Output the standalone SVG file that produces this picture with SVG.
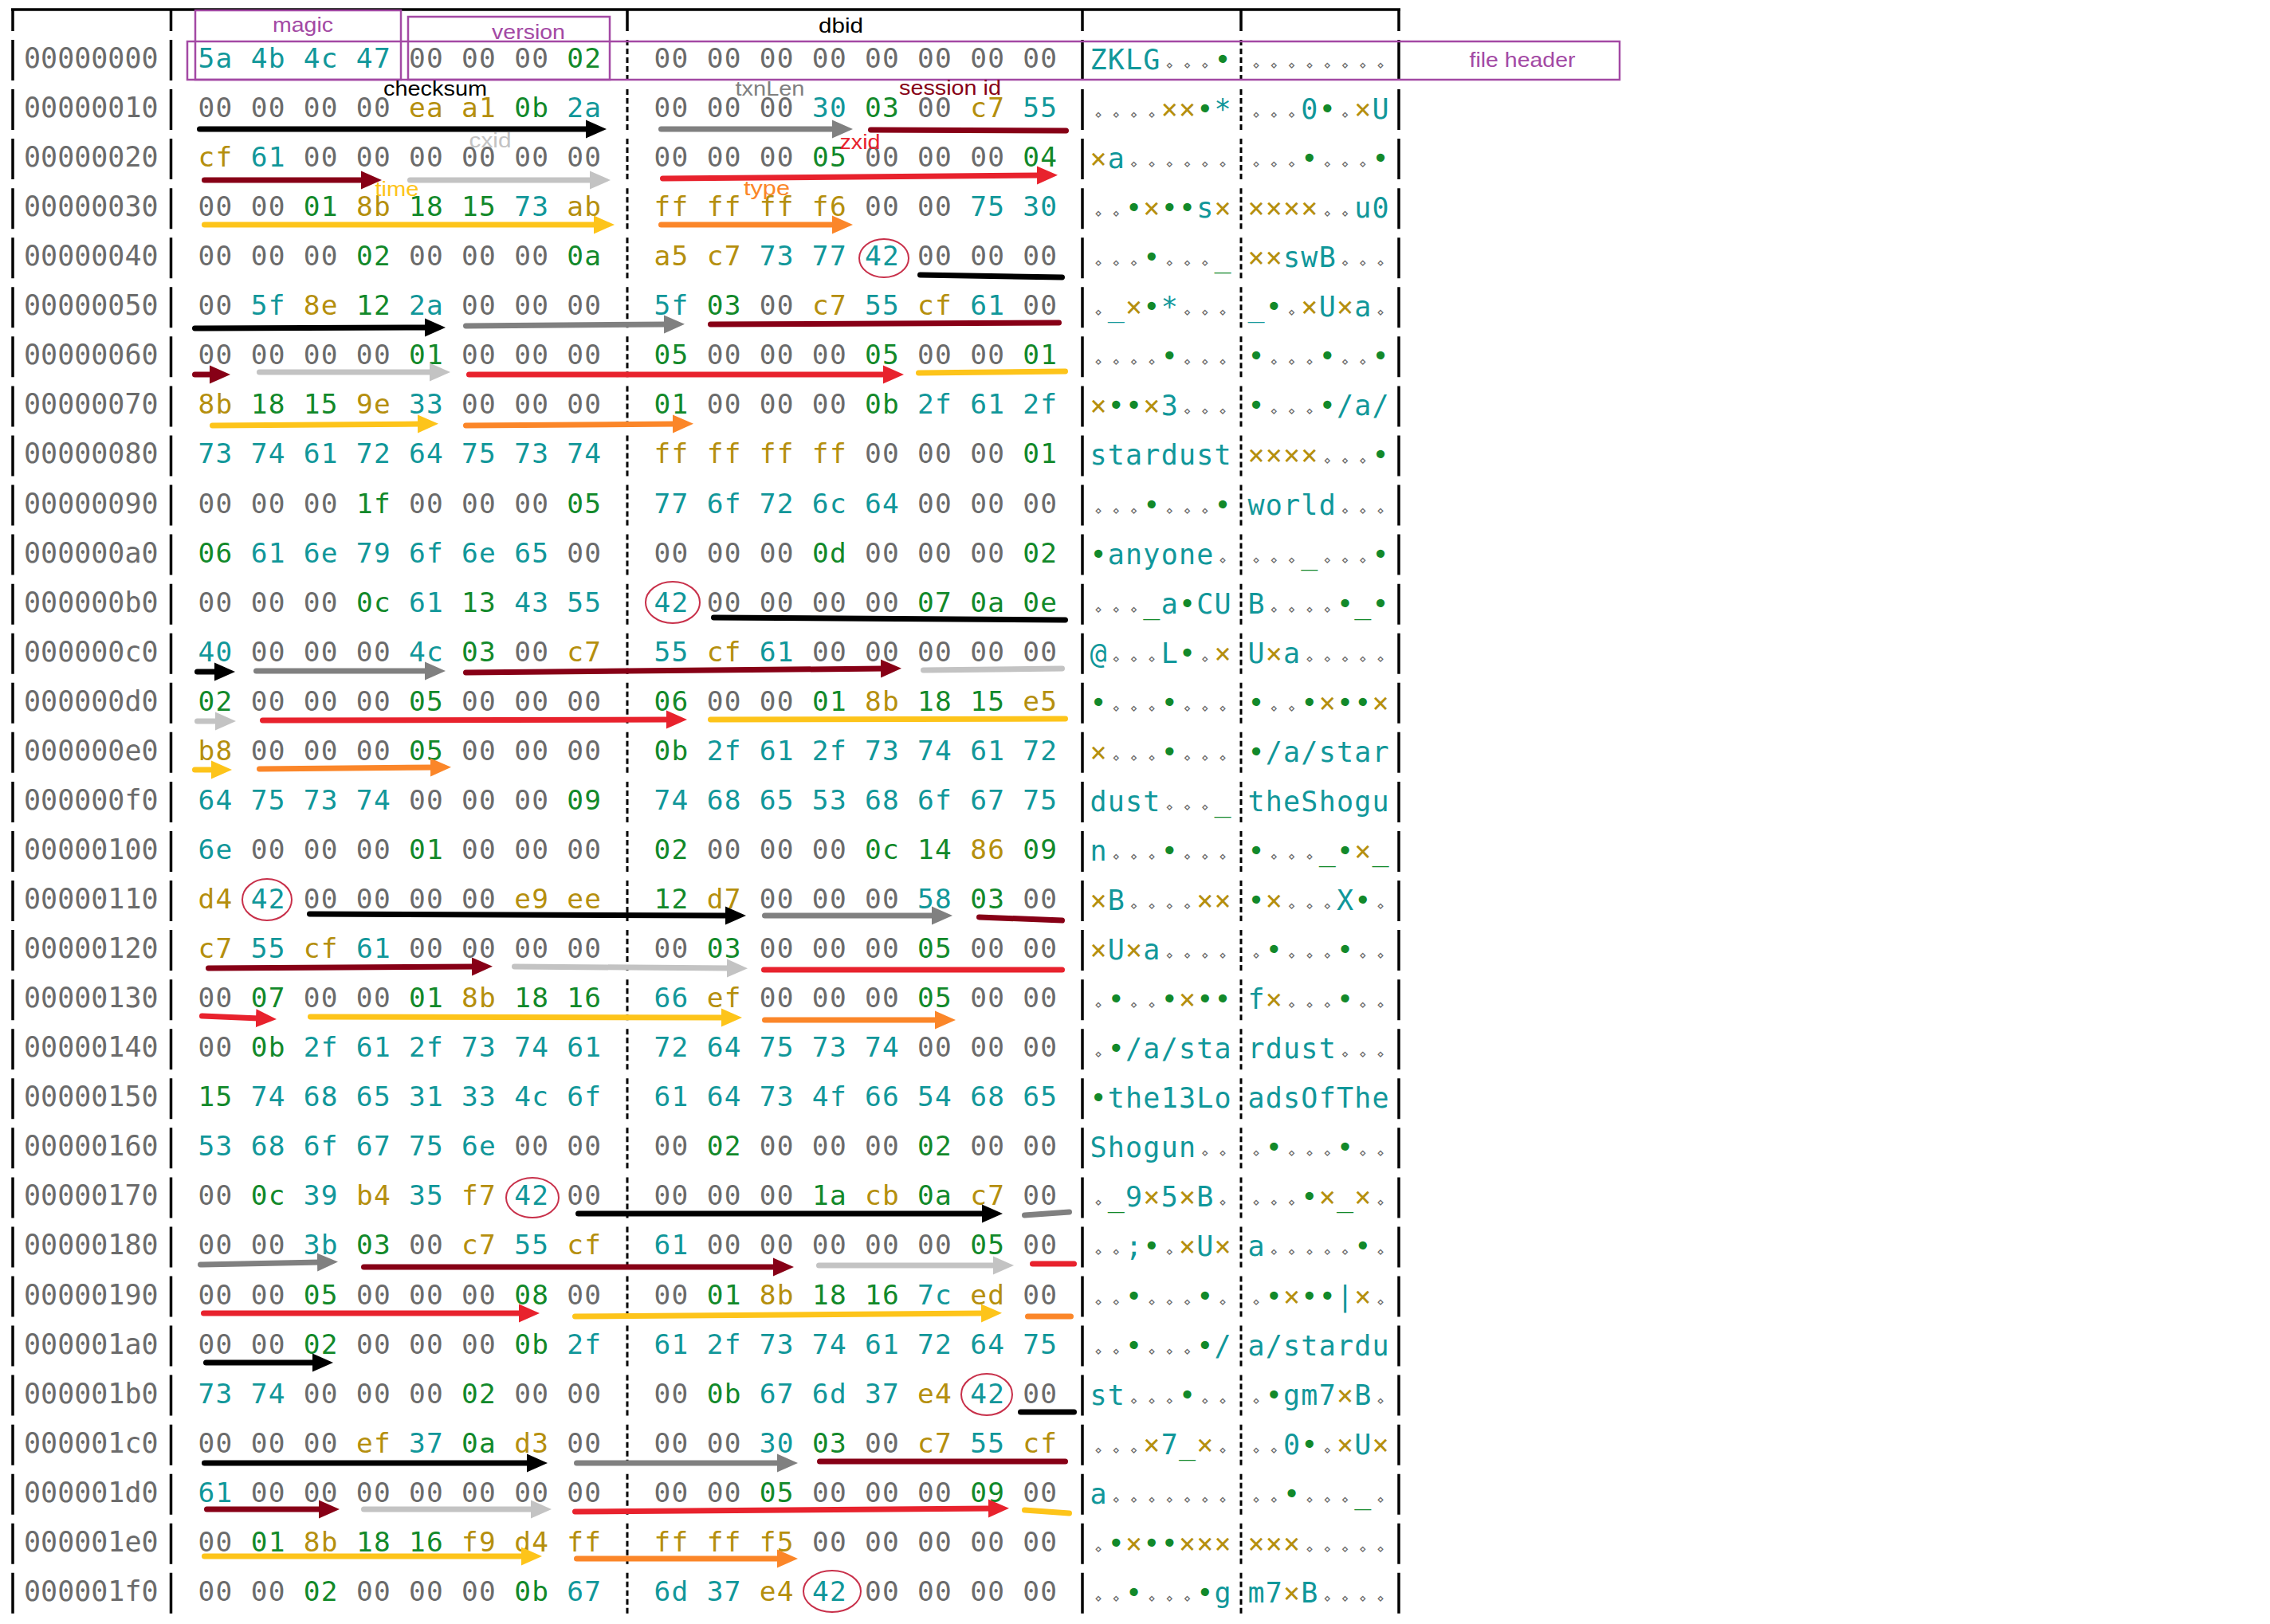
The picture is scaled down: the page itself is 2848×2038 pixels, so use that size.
<svg xmlns="http://www.w3.org/2000/svg" width="2848" height="2038" viewBox="0 0 2848 2038">
<style>
.off{font-family:"DejaVu Sans Mono","Liberation Mono",monospace;font-size:35px;fill:#6b6b6b}
.h{font-family:"DejaVu Sans Mono","Liberation Mono",monospace;font-size:34.5px;letter-spacing:1.26px;white-space:pre}
.a{font-family:"DejaVu Sans Mono","Liberation Mono",monospace;font-size:35px;text-anchor:middle}
.a .n{font-size:15px}
.n{fill:#6b6b6b}.p{fill:#11979a}.g{fill:#12892a}.y{fill:#b58f0e}
.lbl{font-family:"Liberation Sans",Arial,sans-serif;font-size:26.5px;text-anchor:middle}
.solid{stroke:#000;stroke-width:3.5;fill:none}
.dash{stroke:#000;stroke-width:3;fill:none}
.box{fill:none;stroke:#a349a4;stroke-width:2.5}
.ar{fill:none;stroke-width:7;stroke-linecap:round}
.s-k{stroke:#000}.s-gr{stroke:#808080}.s-dr{stroke:#870016}.s-lg{stroke:#c3c3c3}.s-rd{stroke:#e8222d}.s-yl{stroke:#fdc41a}.s-or{stroke:#fb8629}
.c42{fill:none;stroke:#c8304a;stroke-width:2}
</style>
<defs>
<marker id="h-k" viewBox="0 0 30 26" markerWidth="30" markerHeight="26" refX="4" refY="13" orient="auto" markerUnits="userSpaceOnUse"><path d="M0 1.5L26 13L0 24.5Z" fill="#000"/></marker>
<marker id="h-gr" viewBox="0 0 30 26" markerWidth="30" markerHeight="26" refX="4" refY="13" orient="auto" markerUnits="userSpaceOnUse"><path d="M0 1.5L26 13L0 24.5Z" fill="#808080"/></marker>
<marker id="h-dr" viewBox="0 0 30 26" markerWidth="30" markerHeight="26" refX="4" refY="13" orient="auto" markerUnits="userSpaceOnUse"><path d="M0 1.5L26 13L0 24.5Z" fill="#870016"/></marker>
<marker id="h-lg" viewBox="0 0 30 26" markerWidth="30" markerHeight="26" refX="4" refY="13" orient="auto" markerUnits="userSpaceOnUse"><path d="M0 1.5L26 13L0 24.5Z" fill="#c3c3c3"/></marker>
<marker id="h-rd" viewBox="0 0 30 26" markerWidth="30" markerHeight="26" refX="4" refY="13" orient="auto" markerUnits="userSpaceOnUse"><path d="M0 1.5L26 13L0 24.5Z" fill="#e8222d"/></marker>
<marker id="h-yl" viewBox="0 0 30 26" markerWidth="30" markerHeight="26" refX="4" refY="13" orient="auto" markerUnits="userSpaceOnUse"><path d="M0 1.5L26 13L0 24.5Z" fill="#fdc41a"/></marker>
<marker id="h-or" viewBox="0 0 30 26" markerWidth="30" markerHeight="26" refX="4" refY="13" orient="auto" markerUnits="userSpaceOnUse"><path d="M0 1.5L26 13L0 24.5Z" fill="#fb8629"/></marker>
</defs>
<rect x="0" y="0" width="2848" height="2038" fill="#fff"/>
<g id="grid">
<path class="solid" d="M14 12H1757"/>
<path class="solid" d="M16 13V39M214.5 13V39M787 13V39M1358 13V39M1557 13V39M1755 13V39"/>
<path class="solid" stroke-dasharray="51 11.06" d="M16 50V2030M214.5 50V2030M1358 50V2030M1755 50V2030"/>
<path class="dash" stroke-dasharray="7 4 7 4 7 4 7 4 7 11.06" d="M787 50V2030M1557 50V2030"/>
</g>
<g id="rows" xml:space="preserve">
<g id="row-00000000"><text class="off" x="30" y="85">00000000</text><text class="h" x="248.6" y="85"><tspan class="p">5a 4b 4c 47 </tspan><tspan class="n">00 00 00 </tspan><tspan class="g">02</tspan></text><text class="h" x="820.6" y="85"><tspan class="n">00 00 00 00 00 00 00 00</tspan></text><text class="a" x="1378 1400.3 1422.6 1444.9 1467.2 1489.5 1511.8 1534.1" y="87"><tspan class="p">ZKLG</tspan><tspan class="n">⋄⋄⋄</tspan><tspan class="g">•</tspan></text><text class="a" x="1576 1598.3 1620.6 1642.9 1665.2 1687.5 1709.8 1732.1" y="87"><tspan class="n">⋄⋄⋄⋄⋄⋄⋄⋄</tspan></text></g>
<g id="row-00000010"><text class="off" x="30" y="147">00000010</text><text class="h" x="248.6" y="147"><tspan class="n">00 00 00 00 </tspan><tspan class="y">ea a1 </tspan><tspan class="g">0b </tspan><tspan class="p">2a</tspan></text><text class="h" x="820.6" y="147"><tspan class="n">00 00 00 </tspan><tspan class="p">30 </tspan><tspan class="g">03 </tspan><tspan class="n">00 </tspan><tspan class="y">c7 </tspan><tspan class="p">55</tspan></text><text class="a" x="1378 1400.3 1422.6 1444.9 1467.2 1489.5 1511.8 1534.1" y="149"><tspan class="n">⋄⋄⋄⋄</tspan><tspan class="y">××</tspan><tspan class="g">•</tspan><tspan class="p">*</tspan></text><text class="a" x="1576 1598.3 1620.6 1642.9 1665.2 1687.5 1709.8 1732.1" y="149"><tspan class="n">⋄⋄⋄</tspan><tspan class="p">0</tspan><tspan class="g">•</tspan><tspan class="n">⋄</tspan><tspan class="y">×</tspan><tspan class="p">U</tspan></text></g>
<g id="row-00000020"><text class="off" x="30" y="209">00000020</text><text class="h" x="248.6" y="209"><tspan class="y">cf </tspan><tspan class="p">61 </tspan><tspan class="n">00 00 00 00 00 00</tspan></text><text class="h" x="820.6" y="209"><tspan class="n">00 00 00 </tspan><tspan class="g">05 </tspan><tspan class="n">00 00 00 </tspan><tspan class="g">04</tspan></text><text class="a" x="1378 1400.3 1422.6 1444.9 1467.2 1489.5 1511.8 1534.1" y="211"><tspan class="y">×</tspan><tspan class="p">a</tspan><tspan class="n">⋄⋄⋄⋄⋄⋄</tspan></text><text class="a" x="1576 1598.3 1620.6 1642.9 1665.2 1687.5 1709.8 1732.1" y="211"><tspan class="n">⋄⋄⋄</tspan><tspan class="g">•</tspan><tspan class="n">⋄⋄⋄</tspan><tspan class="g">•</tspan></text></g>
<g id="row-00000030"><text class="off" x="30" y="271">00000030</text><text class="h" x="248.6" y="271"><tspan class="n">00 00 </tspan><tspan class="g">01 </tspan><tspan class="y">8b </tspan><tspan class="g">18 15 </tspan><tspan class="p">73 </tspan><tspan class="y">ab</tspan></text><text class="h" x="820.6" y="271"><tspan class="y">ff ff ff f6 </tspan><tspan class="n">00 00 </tspan><tspan class="p">75 30</tspan></text><text class="a" x="1378 1400.3 1422.6 1444.9 1467.2 1489.5 1511.8 1534.1" y="273"><tspan class="n">⋄⋄</tspan><tspan class="g">•</tspan><tspan class="y">×</tspan><tspan class="g">••</tspan><tspan class="p">s</tspan><tspan class="y">×</tspan></text><text class="a" x="1576 1598.3 1620.6 1642.9 1665.2 1687.5 1709.8 1732.1" y="273"><tspan class="y">××××</tspan><tspan class="n">⋄⋄</tspan><tspan class="p">u0</tspan></text></g>
<g id="row-00000040"><text class="off" x="30" y="333">00000040</text><text class="h" x="248.6" y="333"><tspan class="n">00 00 00 </tspan><tspan class="g">02 </tspan><tspan class="n">00 00 00 </tspan><tspan class="g">0a</tspan></text><text class="h" x="820.6" y="333"><tspan class="y">a5 c7 </tspan><tspan class="p">73 77 42 </tspan><tspan class="n">00 00 00</tspan></text><text class="a" x="1378 1400.3 1422.6 1444.9 1467.2 1489.5 1511.8 1534.1" y="335"><tspan class="n">⋄⋄⋄</tspan><tspan class="g">•</tspan><tspan class="n">⋄⋄⋄</tspan><tspan class="g">_</tspan></text><text class="a" x="1576 1598.3 1620.6 1642.9 1665.2 1687.5 1709.8 1732.1" y="335"><tspan class="y">××</tspan><tspan class="p">swB</tspan><tspan class="n">⋄⋄⋄</tspan></text></g>
<g id="row-00000050"><text class="off" x="30" y="395">00000050</text><text class="h" x="248.6" y="395"><tspan class="n">00 </tspan><tspan class="p">5f </tspan><tspan class="y">8e </tspan><tspan class="g">12 </tspan><tspan class="p">2a </tspan><tspan class="n">00 00 00</tspan></text><text class="h" x="820.6" y="395"><tspan class="p">5f </tspan><tspan class="g">03 </tspan><tspan class="n">00 </tspan><tspan class="y">c7 </tspan><tspan class="p">55 </tspan><tspan class="y">cf </tspan><tspan class="p">61 </tspan><tspan class="n">00</tspan></text><text class="a" x="1378 1400.3 1422.6 1444.9 1467.2 1489.5 1511.8 1534.1" y="397"><tspan class="n">⋄</tspan><tspan class="p">_</tspan><tspan class="y">×</tspan><tspan class="g">•</tspan><tspan class="p">*</tspan><tspan class="n">⋄⋄⋄</tspan></text><text class="a" x="1576 1598.3 1620.6 1642.9 1665.2 1687.5 1709.8 1732.1" y="397"><tspan class="p">_</tspan><tspan class="g">•</tspan><tspan class="n">⋄</tspan><tspan class="y">×</tspan><tspan class="p">U</tspan><tspan class="y">×</tspan><tspan class="p">a</tspan><tspan class="n">⋄</tspan></text></g>
<g id="row-00000060"><text class="off" x="30" y="457">00000060</text><text class="h" x="248.6" y="457"><tspan class="n">00 00 00 00 </tspan><tspan class="g">01 </tspan><tspan class="n">00 00 00</tspan></text><text class="h" x="820.6" y="457"><tspan class="g">05 </tspan><tspan class="n">00 00 00 </tspan><tspan class="g">05 </tspan><tspan class="n">00 00 </tspan><tspan class="g">01</tspan></text><text class="a" x="1378 1400.3 1422.6 1444.9 1467.2 1489.5 1511.8 1534.1" y="459"><tspan class="n">⋄⋄⋄⋄</tspan><tspan class="g">•</tspan><tspan class="n">⋄⋄⋄</tspan></text><text class="a" x="1576 1598.3 1620.6 1642.9 1665.2 1687.5 1709.8 1732.1" y="459"><tspan class="g">•</tspan><tspan class="n">⋄⋄⋄</tspan><tspan class="g">•</tspan><tspan class="n">⋄⋄</tspan><tspan class="g">•</tspan></text></g>
<g id="row-00000070"><text class="off" x="30" y="519">00000070</text><text class="h" x="248.6" y="519"><tspan class="y">8b </tspan><tspan class="g">18 15 </tspan><tspan class="y">9e </tspan><tspan class="p">33 </tspan><tspan class="n">00 00 00</tspan></text><text class="h" x="820.6" y="519"><tspan class="g">01 </tspan><tspan class="n">00 00 00 </tspan><tspan class="g">0b </tspan><tspan class="p">2f 61 2f</tspan></text><text class="a" x="1378 1400.3 1422.6 1444.9 1467.2 1489.5 1511.8 1534.1" y="521"><tspan class="y">×</tspan><tspan class="g">••</tspan><tspan class="y">×</tspan><tspan class="p">3</tspan><tspan class="n">⋄⋄⋄</tspan></text><text class="a" x="1576 1598.3 1620.6 1642.9 1665.2 1687.5 1709.8 1732.1" y="521"><tspan class="g">•</tspan><tspan class="n">⋄⋄⋄</tspan><tspan class="g">•</tspan><tspan class="p">/a/</tspan></text></g>
<g id="row-00000080"><text class="off" x="30" y="581">00000080</text><text class="h" x="248.6" y="581"><tspan class="p">73 74 61 72 64 75 73 74</tspan></text><text class="h" x="820.6" y="581"><tspan class="y">ff ff ff ff </tspan><tspan class="n">00 00 00 </tspan><tspan class="g">01</tspan></text><text class="a" x="1378 1400.3 1422.6 1444.9 1467.2 1489.5 1511.8 1534.1" y="583"><tspan class="p">stardust</tspan></text><text class="a" x="1576 1598.3 1620.6 1642.9 1665.2 1687.5 1709.8 1732.1" y="583"><tspan class="y">××××</tspan><tspan class="n">⋄⋄⋄</tspan><tspan class="g">•</tspan></text></g>
<g id="row-00000090"><text class="off" x="30" y="644">00000090</text><text class="h" x="248.6" y="644"><tspan class="n">00 00 00 </tspan><tspan class="g">1f </tspan><tspan class="n">00 00 00 </tspan><tspan class="g">05</tspan></text><text class="h" x="820.6" y="644"><tspan class="p">77 6f 72 6c 64 </tspan><tspan class="n">00 00 00</tspan></text><text class="a" x="1378 1400.3 1422.6 1444.9 1467.2 1489.5 1511.8 1534.1" y="646"><tspan class="n">⋄⋄⋄</tspan><tspan class="g">•</tspan><tspan class="n">⋄⋄⋄</tspan><tspan class="g">•</tspan></text><text class="a" x="1576 1598.3 1620.6 1642.9 1665.2 1687.5 1709.8 1732.1" y="646"><tspan class="p">world</tspan><tspan class="n">⋄⋄⋄</tspan></text></g>
<g id="row-000000a0"><text class="off" x="30" y="706">000000a0</text><text class="h" x="248.6" y="706"><tspan class="g">06 </tspan><tspan class="p">61 6e 79 6f 6e 65 </tspan><tspan class="n">00</tspan></text><text class="h" x="820.6" y="706"><tspan class="n">00 00 00 </tspan><tspan class="g">0d </tspan><tspan class="n">00 00 00 </tspan><tspan class="g">02</tspan></text><text class="a" x="1378 1400.3 1422.6 1444.9 1467.2 1489.5 1511.8 1534.1" y="708"><tspan class="g">•</tspan><tspan class="p">anyone</tspan><tspan class="n">⋄</tspan></text><text class="a" x="1576 1598.3 1620.6 1642.9 1665.2 1687.5 1709.8 1732.1" y="708"><tspan class="n">⋄⋄⋄</tspan><tspan class="g">_</tspan><tspan class="n">⋄⋄⋄</tspan><tspan class="g">•</tspan></text></g>
<g id="row-000000b0"><text class="off" x="30" y="768">000000b0</text><text class="h" x="248.6" y="768"><tspan class="n">00 00 00 </tspan><tspan class="g">0c </tspan><tspan class="p">61 </tspan><tspan class="g">13 </tspan><tspan class="p">43 55</tspan></text><text class="h" x="820.6" y="768"><tspan class="p">42 </tspan><tspan class="n">00 00 00 00 </tspan><tspan class="g">07 0a 0e</tspan></text><text class="a" x="1378 1400.3 1422.6 1444.9 1467.2 1489.5 1511.8 1534.1" y="770"><tspan class="n">⋄⋄⋄</tspan><tspan class="g">_</tspan><tspan class="p">a</tspan><tspan class="g">•</tspan><tspan class="p">CU</tspan></text><text class="a" x="1576 1598.3 1620.6 1642.9 1665.2 1687.5 1709.8 1732.1" y="770"><tspan class="p">B</tspan><tspan class="n">⋄⋄⋄⋄</tspan><tspan class="g">•_•</tspan></text></g>
<g id="row-000000c0"><text class="off" x="30" y="830">000000c0</text><text class="h" x="248.6" y="830"><tspan class="p">40 </tspan><tspan class="n">00 00 00 </tspan><tspan class="p">4c </tspan><tspan class="g">03 </tspan><tspan class="n">00 </tspan><tspan class="y">c7</tspan></text><text class="h" x="820.6" y="830"><tspan class="p">55 </tspan><tspan class="y">cf </tspan><tspan class="p">61 </tspan><tspan class="n">00 00 00 00 00</tspan></text><text class="a" x="1378 1400.3 1422.6 1444.9 1467.2 1489.5 1511.8 1534.1" y="832"><tspan class="p">@</tspan><tspan class="n">⋄⋄⋄</tspan><tspan class="p">L</tspan><tspan class="g">•</tspan><tspan class="n">⋄</tspan><tspan class="y">×</tspan></text><text class="a" x="1576 1598.3 1620.6 1642.9 1665.2 1687.5 1709.8 1732.1" y="832"><tspan class="p">U</tspan><tspan class="y">×</tspan><tspan class="p">a</tspan><tspan class="n">⋄⋄⋄⋄⋄</tspan></text></g>
<g id="row-000000d0"><text class="off" x="30" y="892">000000d0</text><text class="h" x="248.6" y="892"><tspan class="g">02 </tspan><tspan class="n">00 00 00 </tspan><tspan class="g">05 </tspan><tspan class="n">00 00 00</tspan></text><text class="h" x="820.6" y="892"><tspan class="g">06 </tspan><tspan class="n">00 00 </tspan><tspan class="g">01 </tspan><tspan class="y">8b </tspan><tspan class="g">18 15 </tspan><tspan class="y">e5</tspan></text><text class="a" x="1378 1400.3 1422.6 1444.9 1467.2 1489.5 1511.8 1534.1" y="894"><tspan class="g">•</tspan><tspan class="n">⋄⋄⋄</tspan><tspan class="g">•</tspan><tspan class="n">⋄⋄⋄</tspan></text><text class="a" x="1576 1598.3 1620.6 1642.9 1665.2 1687.5 1709.8 1732.1" y="894"><tspan class="g">•</tspan><tspan class="n">⋄⋄</tspan><tspan class="g">•</tspan><tspan class="y">×</tspan><tspan class="g">••</tspan><tspan class="y">×</tspan></text></g>
<g id="row-000000e0"><text class="off" x="30" y="954">000000e0</text><text class="h" x="248.6" y="954"><tspan class="y">b8 </tspan><tspan class="n">00 00 00 </tspan><tspan class="g">05 </tspan><tspan class="n">00 00 00</tspan></text><text class="h" x="820.6" y="954"><tspan class="g">0b </tspan><tspan class="p">2f 61 2f 73 74 61 72</tspan></text><text class="a" x="1378 1400.3 1422.6 1444.9 1467.2 1489.5 1511.8 1534.1" y="956"><tspan class="y">×</tspan><tspan class="n">⋄⋄⋄</tspan><tspan class="g">•</tspan><tspan class="n">⋄⋄⋄</tspan></text><text class="a" x="1576 1598.3 1620.6 1642.9 1665.2 1687.5 1709.8 1732.1" y="956"><tspan class="g">•</tspan><tspan class="p">/a/star</tspan></text></g>
<g id="row-000000f0"><text class="off" x="30" y="1016">000000f0</text><text class="h" x="248.6" y="1016"><tspan class="p">64 75 73 74 </tspan><tspan class="n">00 00 00 </tspan><tspan class="g">09</tspan></text><text class="h" x="820.6" y="1016"><tspan class="p">74 68 65 53 68 6f 67 75</tspan></text><text class="a" x="1378 1400.3 1422.6 1444.9 1467.2 1489.5 1511.8 1534.1" y="1018"><tspan class="p">dust</tspan><tspan class="n">⋄⋄⋄</tspan><tspan class="g">_</tspan></text><text class="a" x="1576 1598.3 1620.6 1642.9 1665.2 1687.5 1709.8 1732.1" y="1018"><tspan class="p">theShogu</tspan></text></g>
<g id="row-00000100"><text class="off" x="30" y="1078">00000100</text><text class="h" x="248.6" y="1078"><tspan class="p">6e </tspan><tspan class="n">00 00 00 </tspan><tspan class="g">01 </tspan><tspan class="n">00 00 00</tspan></text><text class="h" x="820.6" y="1078"><tspan class="g">02 </tspan><tspan class="n">00 00 00 </tspan><tspan class="g">0c 14 </tspan><tspan class="y">86 </tspan><tspan class="g">09</tspan></text><text class="a" x="1378 1400.3 1422.6 1444.9 1467.2 1489.5 1511.8 1534.1" y="1080"><tspan class="p">n</tspan><tspan class="n">⋄⋄⋄</tspan><tspan class="g">•</tspan><tspan class="n">⋄⋄⋄</tspan></text><text class="a" x="1576 1598.3 1620.6 1642.9 1665.2 1687.5 1709.8 1732.1" y="1080"><tspan class="g">•</tspan><tspan class="n">⋄⋄⋄</tspan><tspan class="g">_•</tspan><tspan class="y">×</tspan><tspan class="g">_</tspan></text></g>
<g id="row-00000110"><text class="off" x="30" y="1140">00000110</text><text class="h" x="248.6" y="1140"><tspan class="y">d4 </tspan><tspan class="p">42 </tspan><tspan class="n">00 00 00 00 </tspan><tspan class="y">e9 ee</tspan></text><text class="h" x="820.6" y="1140"><tspan class="g">12 </tspan><tspan class="y">d7 </tspan><tspan class="n">00 00 00 </tspan><tspan class="p">58 </tspan><tspan class="g">03 </tspan><tspan class="n">00</tspan></text><text class="a" x="1378 1400.3 1422.6 1444.9 1467.2 1489.5 1511.8 1534.1" y="1142"><tspan class="y">×</tspan><tspan class="p">B</tspan><tspan class="n">⋄⋄⋄⋄</tspan><tspan class="y">××</tspan></text><text class="a" x="1576 1598.3 1620.6 1642.9 1665.2 1687.5 1709.8 1732.1" y="1142"><tspan class="g">•</tspan><tspan class="y">×</tspan><tspan class="n">⋄⋄⋄</tspan><tspan class="p">X</tspan><tspan class="g">•</tspan><tspan class="n">⋄</tspan></text></g>
<g id="row-00000120"><text class="off" x="30" y="1202">00000120</text><text class="h" x="248.6" y="1202"><tspan class="y">c7 </tspan><tspan class="p">55 </tspan><tspan class="y">cf </tspan><tspan class="p">61 </tspan><tspan class="n">00 00 00 00</tspan></text><text class="h" x="820.6" y="1202"><tspan class="n">00 </tspan><tspan class="g">03 </tspan><tspan class="n">00 00 00 </tspan><tspan class="g">05 </tspan><tspan class="n">00 00</tspan></text><text class="a" x="1378 1400.3 1422.6 1444.9 1467.2 1489.5 1511.8 1534.1" y="1204"><tspan class="y">×</tspan><tspan class="p">U</tspan><tspan class="y">×</tspan><tspan class="p">a</tspan><tspan class="n">⋄⋄⋄⋄</tspan></text><text class="a" x="1576 1598.3 1620.6 1642.9 1665.2 1687.5 1709.8 1732.1" y="1204"><tspan class="n">⋄</tspan><tspan class="g">•</tspan><tspan class="n">⋄⋄⋄</tspan><tspan class="g">•</tspan><tspan class="n">⋄⋄</tspan></text></g>
<g id="row-00000130"><text class="off" x="30" y="1264">00000130</text><text class="h" x="248.6" y="1264"><tspan class="n">00 </tspan><tspan class="g">07 </tspan><tspan class="n">00 00 </tspan><tspan class="g">01 </tspan><tspan class="y">8b </tspan><tspan class="g">18 16</tspan></text><text class="h" x="820.6" y="1264"><tspan class="p">66 </tspan><tspan class="y">ef </tspan><tspan class="n">00 00 00 </tspan><tspan class="g">05 </tspan><tspan class="n">00 00</tspan></text><text class="a" x="1378 1400.3 1422.6 1444.9 1467.2 1489.5 1511.8 1534.1" y="1266"><tspan class="n">⋄</tspan><tspan class="g">•</tspan><tspan class="n">⋄⋄</tspan><tspan class="g">•</tspan><tspan class="y">×</tspan><tspan class="g">••</tspan></text><text class="a" x="1576 1598.3 1620.6 1642.9 1665.2 1687.5 1709.8 1732.1" y="1266"><tspan class="p">f</tspan><tspan class="y">×</tspan><tspan class="n">⋄⋄⋄</tspan><tspan class="g">•</tspan><tspan class="n">⋄⋄</tspan></text></g>
<g id="row-00000140"><text class="off" x="30" y="1326">00000140</text><text class="h" x="248.6" y="1326"><tspan class="n">00 </tspan><tspan class="g">0b </tspan><tspan class="p">2f 61 2f 73 74 61</tspan></text><text class="h" x="820.6" y="1326"><tspan class="p">72 64 75 73 74 </tspan><tspan class="n">00 00 00</tspan></text><text class="a" x="1378 1400.3 1422.6 1444.9 1467.2 1489.5 1511.8 1534.1" y="1328"><tspan class="n">⋄</tspan><tspan class="g">•</tspan><tspan class="p">/a/sta</tspan></text><text class="a" x="1576 1598.3 1620.6 1642.9 1665.2 1687.5 1709.8 1732.1" y="1328"><tspan class="p">rdust</tspan><tspan class="n">⋄⋄⋄</tspan></text></g>
<g id="row-00000150"><text class="off" x="30" y="1388">00000150</text><text class="h" x="248.6" y="1388"><tspan class="g">15 </tspan><tspan class="p">74 68 65 31 33 4c 6f</tspan></text><text class="h" x="820.6" y="1388"><tspan class="p">61 64 73 4f 66 54 68 65</tspan></text><text class="a" x="1378 1400.3 1422.6 1444.9 1467.2 1489.5 1511.8 1534.1" y="1390"><tspan class="g">•</tspan><tspan class="p">the13Lo</tspan></text><text class="a" x="1576 1598.3 1620.6 1642.9 1665.2 1687.5 1709.8 1732.1" y="1390"><tspan class="p">adsOfThe</tspan></text></g>
<g id="row-00000160"><text class="off" x="30" y="1450">00000160</text><text class="h" x="248.6" y="1450"><tspan class="p">53 68 6f 67 75 6e </tspan><tspan class="n">00 00</tspan></text><text class="h" x="820.6" y="1450"><tspan class="n">00 </tspan><tspan class="g">02 </tspan><tspan class="n">00 00 00 </tspan><tspan class="g">02 </tspan><tspan class="n">00 00</tspan></text><text class="a" x="1378 1400.3 1422.6 1444.9 1467.2 1489.5 1511.8 1534.1" y="1452"><tspan class="p">Shogun</tspan><tspan class="n">⋄⋄</tspan></text><text class="a" x="1576 1598.3 1620.6 1642.9 1665.2 1687.5 1709.8 1732.1" y="1452"><tspan class="n">⋄</tspan><tspan class="g">•</tspan><tspan class="n">⋄⋄⋄</tspan><tspan class="g">•</tspan><tspan class="n">⋄⋄</tspan></text></g>
<g id="row-00000170"><text class="off" x="30" y="1512">00000170</text><text class="h" x="248.6" y="1512"><tspan class="n">00 </tspan><tspan class="g">0c </tspan><tspan class="p">39 </tspan><tspan class="y">b4 </tspan><tspan class="p">35 </tspan><tspan class="y">f7 </tspan><tspan class="p">42 </tspan><tspan class="n">00</tspan></text><text class="h" x="820.6" y="1512"><tspan class="n">00 00 00 </tspan><tspan class="g">1a </tspan><tspan class="y">cb </tspan><tspan class="g">0a </tspan><tspan class="y">c7 </tspan><tspan class="n">00</tspan></text><text class="a" x="1378 1400.3 1422.6 1444.9 1467.2 1489.5 1511.8 1534.1" y="1514"><tspan class="n">⋄</tspan><tspan class="g">_</tspan><tspan class="p">9</tspan><tspan class="y">×</tspan><tspan class="p">5</tspan><tspan class="y">×</tspan><tspan class="p">B</tspan><tspan class="n">⋄</tspan></text><text class="a" x="1576 1598.3 1620.6 1642.9 1665.2 1687.5 1709.8 1732.1" y="1514"><tspan class="n">⋄⋄⋄</tspan><tspan class="g">•</tspan><tspan class="y">×</tspan><tspan class="g">_</tspan><tspan class="y">×</tspan><tspan class="n">⋄</tspan></text></g>
<g id="row-00000180"><text class="off" x="30" y="1574">00000180</text><text class="h" x="248.6" y="1574"><tspan class="n">00 00 </tspan><tspan class="p">3b </tspan><tspan class="g">03 </tspan><tspan class="n">00 </tspan><tspan class="y">c7 </tspan><tspan class="p">55 </tspan><tspan class="y">cf</tspan></text><text class="h" x="820.6" y="1574"><tspan class="p">61 </tspan><tspan class="n">00 00 00 00 00 </tspan><tspan class="g">05 </tspan><tspan class="n">00</tspan></text><text class="a" x="1378 1400.3 1422.6 1444.9 1467.2 1489.5 1511.8 1534.1" y="1576"><tspan class="n">⋄⋄</tspan><tspan class="p">;</tspan><tspan class="g">•</tspan><tspan class="n">⋄</tspan><tspan class="y">×</tspan><tspan class="p">U</tspan><tspan class="y">×</tspan></text><text class="a" x="1576 1598.3 1620.6 1642.9 1665.2 1687.5 1709.8 1732.1" y="1576"><tspan class="p">a</tspan><tspan class="n">⋄⋄⋄⋄⋄</tspan><tspan class="g">•</tspan><tspan class="n">⋄</tspan></text></g>
<g id="row-00000190"><text class="off" x="30" y="1637">00000190</text><text class="h" x="248.6" y="1637"><tspan class="n">00 00 </tspan><tspan class="g">05 </tspan><tspan class="n">00 00 00 </tspan><tspan class="g">08 </tspan><tspan class="n">00</tspan></text><text class="h" x="820.6" y="1637"><tspan class="n">00 </tspan><tspan class="g">01 </tspan><tspan class="y">8b </tspan><tspan class="g">18 16 </tspan><tspan class="p">7c </tspan><tspan class="y">ed </tspan><tspan class="n">00</tspan></text><text class="a" x="1378 1400.3 1422.6 1444.9 1467.2 1489.5 1511.8 1534.1" y="1639"><tspan class="n">⋄⋄</tspan><tspan class="g">•</tspan><tspan class="n">⋄⋄⋄</tspan><tspan class="g">•</tspan><tspan class="n">⋄</tspan></text><text class="a" x="1576 1598.3 1620.6 1642.9 1665.2 1687.5 1709.8 1732.1" y="1639"><tspan class="n">⋄</tspan><tspan class="g">•</tspan><tspan class="y">×</tspan><tspan class="g">••</tspan><tspan class="p">|</tspan><tspan class="y">×</tspan><tspan class="n">⋄</tspan></text></g>
<g id="row-000001a0"><text class="off" x="30" y="1699">000001a0</text><text class="h" x="248.6" y="1699"><tspan class="n">00 00 </tspan><tspan class="g">02 </tspan><tspan class="n">00 00 00 </tspan><tspan class="g">0b </tspan><tspan class="p">2f</tspan></text><text class="h" x="820.6" y="1699"><tspan class="p">61 2f 73 74 61 72 64 75</tspan></text><text class="a" x="1378 1400.3 1422.6 1444.9 1467.2 1489.5 1511.8 1534.1" y="1701"><tspan class="n">⋄⋄</tspan><tspan class="g">•</tspan><tspan class="n">⋄⋄⋄</tspan><tspan class="g">•</tspan><tspan class="p">/</tspan></text><text class="a" x="1576 1598.3 1620.6 1642.9 1665.2 1687.5 1709.8 1732.1" y="1701"><tspan class="p">a/stardu</tspan></text></g>
<g id="row-000001b0"><text class="off" x="30" y="1761">000001b0</text><text class="h" x="248.6" y="1761"><tspan class="p">73 74 </tspan><tspan class="n">00 00 00 </tspan><tspan class="g">02 </tspan><tspan class="n">00 00</tspan></text><text class="h" x="820.6" y="1761"><tspan class="n">00 </tspan><tspan class="g">0b </tspan><tspan class="p">67 6d 37 </tspan><tspan class="y">e4 </tspan><tspan class="p">42 </tspan><tspan class="n">00</tspan></text><text class="a" x="1378 1400.3 1422.6 1444.9 1467.2 1489.5 1511.8 1534.1" y="1763"><tspan class="p">st</tspan><tspan class="n">⋄⋄⋄</tspan><tspan class="g">•</tspan><tspan class="n">⋄⋄</tspan></text><text class="a" x="1576 1598.3 1620.6 1642.9 1665.2 1687.5 1709.8 1732.1" y="1763"><tspan class="n">⋄</tspan><tspan class="g">•</tspan><tspan class="p">gm7</tspan><tspan class="y">×</tspan><tspan class="p">B</tspan><tspan class="n">⋄</tspan></text></g>
<g id="row-000001c0"><text class="off" x="30" y="1823">000001c0</text><text class="h" x="248.6" y="1823"><tspan class="n">00 00 00 </tspan><tspan class="y">ef </tspan><tspan class="p">37 </tspan><tspan class="g">0a </tspan><tspan class="y">d3 </tspan><tspan class="n">00</tspan></text><text class="h" x="820.6" y="1823"><tspan class="n">00 00 </tspan><tspan class="p">30 </tspan><tspan class="g">03 </tspan><tspan class="n">00 </tspan><tspan class="y">c7 </tspan><tspan class="p">55 </tspan><tspan class="y">cf</tspan></text><text class="a" x="1378 1400.3 1422.6 1444.9 1467.2 1489.5 1511.8 1534.1" y="1825"><tspan class="n">⋄⋄⋄</tspan><tspan class="y">×</tspan><tspan class="p">7</tspan><tspan class="g">_</tspan><tspan class="y">×</tspan><tspan class="n">⋄</tspan></text><text class="a" x="1576 1598.3 1620.6 1642.9 1665.2 1687.5 1709.8 1732.1" y="1825"><tspan class="n">⋄⋄</tspan><tspan class="p">0</tspan><tspan class="g">•</tspan><tspan class="n">⋄</tspan><tspan class="y">×</tspan><tspan class="p">U</tspan><tspan class="y">×</tspan></text></g>
<g id="row-000001d0"><text class="off" x="30" y="1885">000001d0</text><text class="h" x="248.6" y="1885"><tspan class="p">61 </tspan><tspan class="n">00 00 00 00 00 00 00</tspan></text><text class="h" x="820.6" y="1885"><tspan class="n">00 00 </tspan><tspan class="g">05 </tspan><tspan class="n">00 00 00 </tspan><tspan class="g">09 </tspan><tspan class="n">00</tspan></text><text class="a" x="1378 1400.3 1422.6 1444.9 1467.2 1489.5 1511.8 1534.1" y="1887"><tspan class="p">a</tspan><tspan class="n">⋄⋄⋄⋄⋄⋄⋄</tspan></text><text class="a" x="1576 1598.3 1620.6 1642.9 1665.2 1687.5 1709.8 1732.1" y="1887"><tspan class="n">⋄⋄</tspan><tspan class="g">•</tspan><tspan class="n">⋄⋄⋄</tspan><tspan class="g">_</tspan><tspan class="n">⋄</tspan></text></g>
<g id="row-000001e0"><text class="off" x="30" y="1947">000001e0</text><text class="h" x="248.6" y="1947"><tspan class="n">00 </tspan><tspan class="g">01 </tspan><tspan class="y">8b </tspan><tspan class="g">18 16 </tspan><tspan class="y">f9 d4 ff</tspan></text><text class="h" x="820.6" y="1947"><tspan class="y">ff ff f5 </tspan><tspan class="n">00 00 00 00 00</tspan></text><text class="a" x="1378 1400.3 1422.6 1444.9 1467.2 1489.5 1511.8 1534.1" y="1949"><tspan class="n">⋄</tspan><tspan class="g">•</tspan><tspan class="y">×</tspan><tspan class="g">••</tspan><tspan class="y">×××</tspan></text><text class="a" x="1576 1598.3 1620.6 1642.9 1665.2 1687.5 1709.8 1732.1" y="1949"><tspan class="y">×××</tspan><tspan class="n">⋄⋄⋄⋄⋄</tspan></text></g>
<g id="row-000001f0"><text class="off" x="30" y="2009">000001f0</text><text class="h" x="248.6" y="2009"><tspan class="n">00 00 </tspan><tspan class="g">02 </tspan><tspan class="n">00 00 00 </tspan><tspan class="g">0b </tspan><tspan class="p">67</tspan></text><text class="h" x="820.6" y="2009"><tspan class="p">6d 37 </tspan><tspan class="y">e4 </tspan><tspan class="p">42 </tspan><tspan class="n">00 00 00 00</tspan></text><text class="a" x="1378 1400.3 1422.6 1444.9 1467.2 1489.5 1511.8 1534.1" y="2011"><tspan class="n">⋄⋄</tspan><tspan class="g">•</tspan><tspan class="n">⋄⋄⋄</tspan><tspan class="g">•</tspan><tspan class="p">g</tspan></text><text class="a" x="1576 1598.3 1620.6 1642.9 1665.2 1687.5 1709.8 1732.1" y="2011"><tspan class="p">m7</tspan><tspan class="y">×</tspan><tspan class="p">B</tspan><tspan class="n">⋄⋄⋄⋄</tspan></text></g>
</g>
<g id="field-file-header"><rect class="box" x="235" y="52" width="1797" height="48"/><text class="lbl" x="1910" y="84" fill="#a349a4" textLength="133" lengthAdjust="spacingAndGlyphs">file header</text></g>
<g id="field-magic"><rect class="box" x="245" y="13" width="258" height="87"/><text class="lbl" x="380" y="40" fill="#a349a4" textLength="76" lengthAdjust="spacingAndGlyphs">magic</text></g>
<g id="field-version"><rect class="box" x="512" y="21" width="253" height="79"/><text class="lbl" x="663" y="49" fill="#a349a4" textLength="92" lengthAdjust="spacingAndGlyphs">version</text></g>
<g id="field-dbid"><text class="lbl" x="1055" y="41" fill="#000" textLength="56" lengthAdjust="spacingAndGlyphs">dbid</text></g>
<g id="connectors">
<path class="ar s-k" marker-end="url(#h-k)" d="M250.5 162L739 162"/>
<path class="ar s-gr" marker-end="url(#h-gr)" d="M829.5 162L1048 162"/>
<path class="ar s-dr" d="M1092.5 163L1337.5 164"/>
<path class="ar s-dr" marker-end="url(#h-dr)" d="M256.5 226L457 226"/>
<path class="ar s-lg" marker-end="url(#h-lg)" d="M514.5 226L744 226"/>
<path class="ar s-rd" marker-end="url(#h-rd)" d="M831.5 224L1305 220"/>
<path class="ar s-yl" marker-end="url(#h-yl)" d="M256.5 282L749 282"/>
<path class="ar s-or" marker-end="url(#h-or)" d="M829.5 282L1048 282"/>
<path class="ar s-k" d="M1154.5 345L1332.5 348"/>
<path class="ar s-k" marker-end="url(#h-k)" d="M244.5 412L537 411"/>
<path class="ar s-gr" marker-end="url(#h-gr)" d="M584.5 409L837 407"/>
<path class="ar s-dr" d="M891.5 407L1328.5 405"/>
<path class="ar s-dr" marker-end="url(#h-dr)" d="M244.5 470L267 470"/>
<path class="ar s-lg" marker-end="url(#h-lg)" d="M325.5 467L543 467"/>
<path class="ar s-rd" marker-end="url(#h-rd)" d="M588.5 470L1112 470"/>
<path class="ar s-yl" d="M1152.5 468L1336.5 466"/>
<path class="ar s-yl" marker-end="url(#h-yl)" d="M266.5 534L528 532"/>
<path class="ar s-or" marker-end="url(#h-or)" d="M584.5 534L848 532"/>
<path class="ar s-k" d="M895.5 775L1336.5 778"/>
<path class="ar s-k" marker-end="url(#h-k)" d="M247.5 843L273 843"/>
<path class="ar s-gr" marker-end="url(#h-gr)" d="M321.5 842L537 842"/>
<path class="ar s-dr" marker-end="url(#h-dr)" d="M584.5 844L1109 839"/>
<path class="ar s-lg" d="M1158.5 841L1332.5 839"/>
<path class="ar s-lg" marker-end="url(#h-lg)" d="M247.5 905L274 905"/>
<path class="ar s-rd" marker-end="url(#h-rd)" d="M329.5 904L840 903"/>
<path class="ar s-yl" d="M891.5 903L1336.5 902"/>
<path class="ar s-yl" marker-end="url(#h-yl)" d="M244.5 966L269 966"/>
<path class="ar s-or" marker-end="url(#h-or)" d="M325.5 965L544 963"/>
<path class="ar s-k" marker-end="url(#h-k)" d="M388.5 1147L914 1149"/>
<path class="ar s-gr" marker-end="url(#h-gr)" d="M959.5 1149L1173 1149"/>
<path class="ar s-dr" d="M1228.5 1151L1332.5 1155"/>
<path class="ar s-dr" marker-end="url(#h-dr)" d="M261.5 1215L596 1213"/>
<path class="ar s-lg" marker-end="url(#h-lg)" d="M645.5 1213L916 1215"/>
<path class="ar s-rd" d="M958.5 1217L1332.5 1217"/>
<path class="ar s-rd" marker-end="url(#h-rd)" d="M253.5 1275L325 1278"/>
<path class="ar s-yl" marker-end="url(#h-yl)" d="M389.5 1276L909 1277"/>
<path class="ar s-or" marker-end="url(#h-or)" d="M959.5 1280L1177 1280"/>
<path class="ar s-k" marker-end="url(#h-k)" d="M725.5 1523L1236 1523"/>
<path class="ar s-gr" d="M1285.5 1525L1341.5 1521"/>
<path class="ar s-gr" marker-end="url(#h-gr)" d="M251.5 1587L402 1584"/>
<path class="ar s-dr" marker-end="url(#h-dr)" d="M456.5 1590L974 1590"/>
<path class="ar s-lg" marker-end="url(#h-lg)" d="M1027.5 1588L1250 1588"/>
<path class="ar s-rd" d="M1295.5 1586L1347.5 1586"/>
<path class="ar s-rd" marker-end="url(#h-rd)" d="M255.5 1648L655 1648"/>
<path class="ar s-yl" marker-end="url(#h-yl)" d="M721.5 1652L1235 1648"/>
<path class="ar s-or" d="M1289.5 1652L1343.5 1652"/>
<path class="ar s-k" marker-end="url(#h-k)" d="M258.5 1710L396 1710"/>
<path class="ar s-k" d="M1280.5 1772L1347.5 1772"/>
<path class="ar s-k" marker-end="url(#h-k)" d="M256.5 1836L665 1836"/>
<path class="ar s-gr" marker-end="url(#h-gr)" d="M723.5 1836L979 1836"/>
<path class="ar s-dr" d="M1028.5 1834L1336.5 1834"/>
<path class="ar s-dr" marker-end="url(#h-dr)" d="M259.5 1894L404 1894"/>
<path class="ar s-lg" marker-end="url(#h-lg)" d="M456.5 1894L670 1894"/>
<path class="ar s-rd" marker-end="url(#h-rd)" d="M721.5 1897L1244 1893"/>
<path class="ar s-yl" d="M1285.5 1895L1341.5 1899"/>
<path class="ar s-yl" marker-end="url(#h-yl)" d="M256.5 1953L658 1953"/>
<path class="ar s-or" marker-end="url(#h-or)" d="M723.5 1956L979 1956"/>
</g>
<g id="marks-42">
<ellipse class="c42" cx="1109" cy="324" rx="31" ry="24"/>
<ellipse class="c42" cx="844" cy="756" rx="34" ry="26"/>
<ellipse class="c42" cx="335" cy="1129" rx="31" ry="26"/>
<ellipse class="c42" cx="668" cy="1503" rx="33" ry="25"/>
<ellipse class="c42" cx="1238" cy="1750" rx="32" ry="26"/>
<ellipse class="c42" cx="1044" cy="1997" rx="36" ry="26"/>
</g>
<g id="labels">
<text class="lbl" x="546" y="119.5" fill="#000" textLength="130" lengthAdjust="spacingAndGlyphs">checksum</text>
<text class="lbl" x="966" y="120" fill="#808080" textLength="87" lengthAdjust="spacingAndGlyphs">txnLen</text>
<text class="lbl" x="1192" y="119" fill="#870016" textLength="128" lengthAdjust="spacingAndGlyphs">session id</text>
<text class="lbl" x="615" y="185" fill="#c3c3c3" textLength="53" lengthAdjust="spacingAndGlyphs">cxid</text>
<text class="lbl" x="1079" y="187" fill="#e8222d" textLength="51" lengthAdjust="spacingAndGlyphs">zxid</text>
<text class="lbl" x="498" y="246" fill="#fdc41a" textLength="55" lengthAdjust="spacingAndGlyphs">time</text>
<text class="lbl" x="962" y="245" fill="#fb8629" textLength="58" lengthAdjust="spacingAndGlyphs">type</text>
</g>
</svg>
